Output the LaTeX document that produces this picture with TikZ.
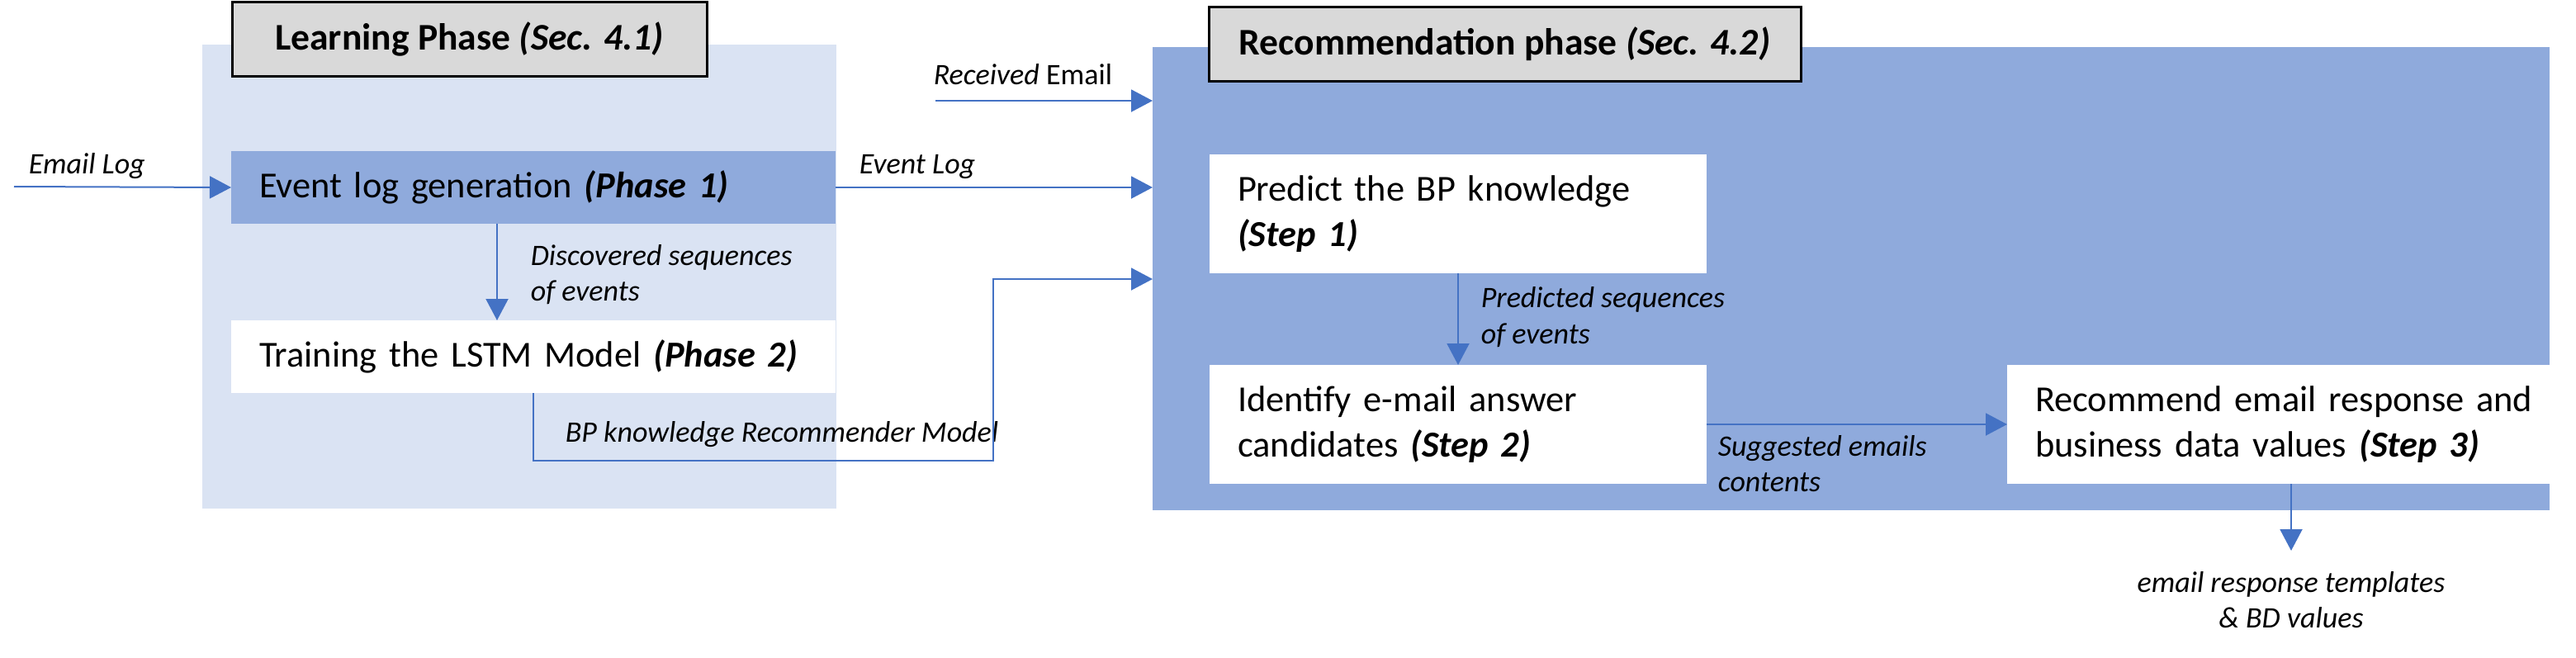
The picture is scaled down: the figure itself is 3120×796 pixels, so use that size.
\documentclass[tikz,border=0pt]{standalone}
\usepackage{fontspec}
\setmainfont{Carlito}
\usetikzlibrary{arrows.meta}
\definecolor{lightbg}{HTML}{DAE3F3}
\definecolor{midbg}{HTML}{8FAADC}
\definecolor{arrowc}{HTML}{4472C4}
\definecolor{titlefill}{HTML}{D9D9D9}
\begin{document}
\begin{tikzpicture}[x=0.25pt,y=-0.25pt,
  region/.style={anchor=north west, inner sep=0pt, outer sep=0pt, draw=none},
  titlebox/.style={anchor=north west, fill=titlefill, draw=black, line width=0.75pt, inner sep=0pt, outer sep=0pt, font=\fontsize{11.4pt}{13.9pt}\selectfont\bfseries, minimum height=22.5pt},
  stepbox/.style={anchor=north west, inner xsep=8.5pt, inner ysep=0pt, outer sep=0pt, align=left, font=\fontsize{11.1pt}{13.75pt}\selectfont},
  lab/.style={font=\fontsize{9pt}{10.8pt}\selectfont\itshape, inner sep=0pt, anchor=base west},
  arr/.style={draw=arrowc, line width=0.5pt, -{Triangle[length=6.5pt,width=6.75pt]}},
]
\useasboundingbox (0,0) rectangle (3120,796);
% regions
\node[region, fill=lightbg, minimum width=192pt, minimum height=140.5pt] (lbg) at (245,54) {};
\node[region, fill=midbg, minimum width=423pt, minimum height=140.25pt] (rbg) at (1396,57) {};
% titles
\node[titlebox, minimum width=143.75pt] (ltitle) at (281,2) {Learning Phase \textit{(Sec. 4.1)}};
\node[titlebox, minimum width=179.25pt] (rtitle) at (1464,8) {Recommendation phase \textit{(Sec. 4.2)}};
% step boxes
\node[stepbox, fill=midbg, minimum width=183pt, text width=166pt, minimum height=22pt] (elog) at (280,183) {\mbox{Event log generation \textbf{\textit{(Phase 1)}}}};
\node[stepbox, fill=white, minimum width=183pt, text width=166pt, minimum height=22pt] (train) at (280,388) {\mbox{Training the LSTM Model \textbf{\textit{(Phase 2)}}}};
\node[stepbox, fill=white, minimum width=150.5pt, text width=133.5pt, minimum height=36pt] (pred) at (1465,187) {\mbox{Predict the BP knowledge}\\\textbf{\textit{(Step 1)}}};
\node[stepbox, fill=white, minimum width=150.5pt, text width=133.5pt, minimum height=36pt] (ident) at (1465,442) {\mbox{Identify e-mail answer}\\\mbox{candidates \textbf{\textit{(Step 2)}}}};
\node[stepbox, fill=white, minimum width=164.25pt, text width=147.25pt, minimum height=36pt] (rec) at (2431,442) {\mbox{Recommend email response and}\\\mbox{business data values \textbf{\textit{(Step 3)}}}};
% labels
\node[lab] (emaillog) at (34,210) {Email Log};
\node[lab] (eventlog) at (1040,210) {Event Log};
\node[lab] (received) at (1130,102) {Received \textup{Email}};
\node[lab] (disc1) at (642,321) {Discovered sequences};
\node[lab] (disc2) at (642,364) {of events};
\node[lab] (bplab) at (684,535) {BP knowledge Recommender Model};
\node[lab] (pred1) at (1793,372) {Predicted sequences};
\node[lab] (pred2) at (1793,416) {of events};
\node[lab] (sugg1) at (2080,552) {Suggested emails};
\node[lab] (sugg2) at (2080,595) {contents};
\node[lab, anchor=base] (out1) at (2775,717) {email response templates};
\node[lab, anchor=base] (out2) at (2775,760) {\& BD values};
% connectors
\coordinate (emailsrc) at (17,226);
\draw[arr] (emailsrc) -- (elog.west);
\draw[arr] (elog.east) -- (rbg.west |- elog.east);
\coordinate (recsrc) at (1133,122);
\draw[arr] (recsrc) -- (rbg.west |- recsrc);
\draw[arr] (elog.south -| 602,0) -- (train.north -| 602,0);
\coordinate (bpturn) at (1203,558);
\draw[arr] (train.south) |- (bpturn) |- (rbg.west |- 0,338);
\draw[arr] (pred.south) -- (ident.north);
\draw[arr] (ident.east) -- (rec.west);
\coordinate (outend) at (2775,667);
\draw[arr] (rec.south -| outend) -- (outend);
\end{tikzpicture}
\end{document}
